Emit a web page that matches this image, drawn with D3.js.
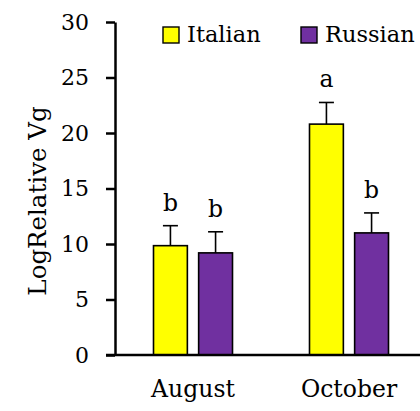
<!DOCTYPE html>
<html><head><meta charset="utf-8">
<script src="https://cdn.jsdelivr.net/npm/d3@7"></script>
<style>
html,body{margin:0;padding:0;background:#fff;overflow:hidden;}
text{font-family:"DejaVu Serif",serif;fill:#000;}
</style></head>
<body><svg id="c" width="420" height="411"></svg>
<script>
const months = ["August", "October"];
const seriesNames = ["Italian", "Russian"];
const seriesColors = ["#FFFF00", "#7030A0"];
const italianValues = [9.85, 20.8];
const russianValues = [9.2, 11.0];
const italianErrors = [1.8, 1.95];
const russianErrors = [1.9, 1.8];
const italianLetters = ["b", "a"];
const russianLetters = ["b", "b"];
const yTicks = [0, 5, 10, 15, 20, 25, 30];

const svg = d3.select("#c");
const fs = 22, fsL = 23.5;
const y = d3.scaleLinear().domain([0, 30]).range([355, 22]);
const x0 = d3.scaleBand().domain(months).range([115, 427]).paddingInner(0).paddingOuter(0);
const groupW = 79;
const x1 = d3.scaleBand().domain(seriesNames).range([0, groupW]).paddingInner(0.25);

const data = [];
months.forEach((m, i) => {
  data.push({m, s: "Italian", v: italianValues[i], e: italianErrors[i], l: italianLetters[i], c: seriesColors[0]});
  data.push({m, s: "Russian", v: russianValues[i], e: russianErrors[i], l: russianLetters[i], c: seriesColors[1]});
});
const bx = d => x0(d.m) + x0.bandwidth() / 2 - groupW / 2 + x1(d.s);

svg.selectAll("rect.bar").data(data).join("rect").attr("class", "bar")
  .attr("x", bx).attr("width", x1.bandwidth())
  .attr("y", d => y(d.v)).attr("height", d => y(0) - y(d.v))
  .attr("fill", d => d.c).attr("stroke", "#000").attr("stroke-width", 1.6);

const cx = d => bx(d) + x1.bandwidth() / 2;
svg.selectAll("line.err").data(data).join("line").attr("class", "err")
  .attr("x1", cx).attr("x2", cx).attr("y1", d => y(d.v)).attr("y2", d => y(d.v + d.e))
  .attr("stroke", "#000").attr("stroke-width", 1.6);
svg.selectAll("line.cap").data(data).join("line").attr("class", "cap")
  .attr("x1", d => cx(d) - 7.5).attr("x2", d => cx(d) + 7.5)
  .attr("y1", d => y(d.v + d.e)).attr("y2", d => y(d.v + d.e))
  .attr("stroke", "#000").attr("stroke-width", 1.6);
svg.selectAll("text.let").data(data).join("text").attr("class", "let")
  .attr("x", cx).attr("y", d => y(d.v + d.e) - 15)
  .attr("text-anchor", "middle").attr("font-size", fsL).text(d => d.l);

const ya = svg.append("g").attr("transform", "translate(115,0)")
  .call(d3.axisLeft(y).tickValues(yTicks).tickSize(9).tickPadding(17).tickSizeOuter(0));
ya.select(".domain").attr("stroke-width", 2.5);
ya.selectAll(".tick line").attr("stroke-width", 2.5);
ya.selectAll(".tick text").attr("font-size", fs).attr("font-family", "DejaVu Serif");

const xa = svg.append("g").attr("transform", "translate(0,355)")
  .call(d3.axisBottom(x0).tickSize(0).tickPadding(25).tickSizeOuter(0));
xa.select(".domain").attr("d", "M106,0H427").attr("stroke-width", 2.5);
xa.selectAll(".tick text").attr("font-size", fsL).attr("font-family", "DejaVu Serif");

svg.append("text").attr("transform", "translate(46,201) rotate(-90)")
  .attr("text-anchor", "middle").attr("font-size", 24.5).text("LogRelative Vg");

const lx = [163, 301];
seriesNames.forEach((s, i) => {
  svg.append("rect").attr("x", lx[i]).attr("y", 27).attr("width", 16).attr("height", 16)
    .attr("fill", seriesColors[i]).attr("stroke", "#000").attr("stroke-width", 1.4);
  svg.append("text").attr("x", lx[i] + 24).attr("y", 42).attr("font-size", 22.5).text(s);
});
</script></body></html>
